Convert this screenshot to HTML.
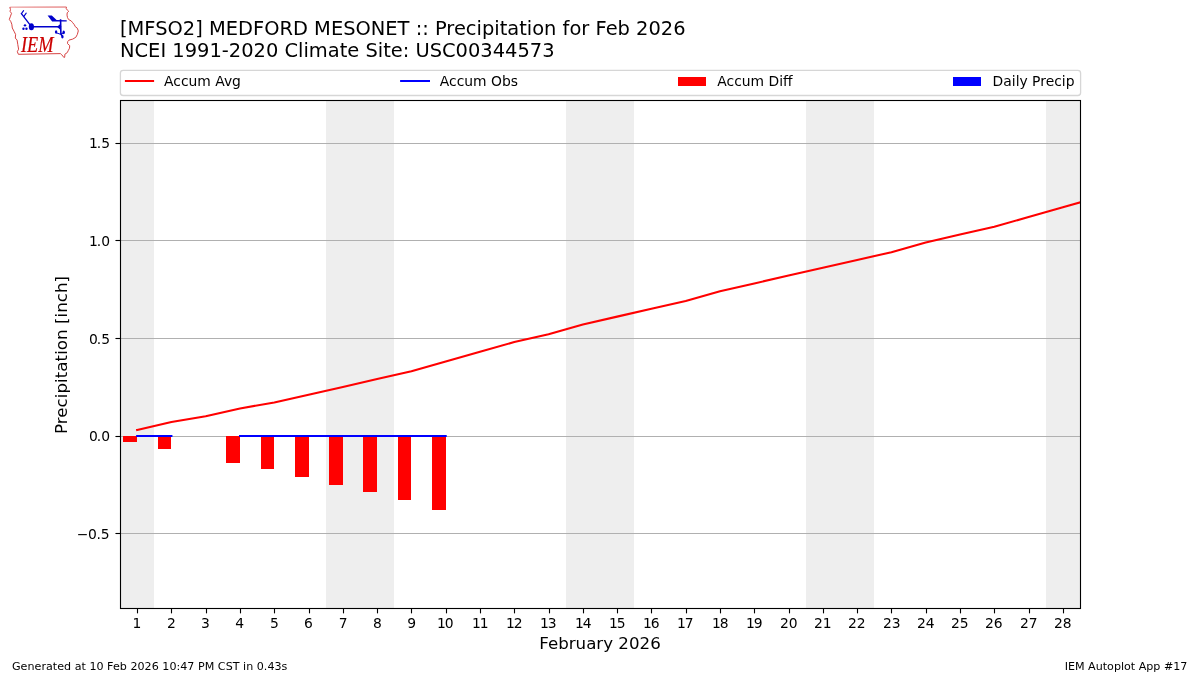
<!DOCTYPE html>
<html lang="en"><head><meta charset="utf-8"><title>IEM Autoplot #17 - MFSO2 Precipitation Feb 2026</title>
<style>
html,body{margin:0;padding:0;background:#fff;}
body{width:1200px;height:675px;overflow:hidden;}
svg{display:block;}
text{font-family:"DejaVu Sans", "Liberation Sans", sans-serif;fill:#000;}
.t10{font-size:13.889px;}
.t12{font-size:16.667px;}
.t14{font-size:19.444px;}
.t8{font-size:11.111px;}
</style></head><body>
<svg width="1200" height="675" viewBox="0 0 1200 675">
<rect x="0" y="0" width="1200" height="675" fill="#ffffff"/>
<defs><clipPath id="axclip"><rect x="120.00" y="100.50" width="960.50" height="508.00"/></clipPath></defs>
<g id="plot" clip-path="url(#axclip)">
<rect x="120" y="100.5" width="34" height="508.0" fill="#eeeeee"/>
<rect x="326" y="100.5" width="68" height="508.0" fill="#eeeeee"/>
<rect x="566" y="100.5" width="68" height="508.0" fill="#eeeeee"/>
<rect x="806" y="100.5" width="68" height="508.0" fill="#eeeeee"/>
<rect x="1046" y="100.5" width="68" height="508.0" fill="#eeeeee"/>
<g stroke="#b0b0b0" stroke-width="1.11" fill="none">
<line x1="120.0" y1="143.5" x2="1080.5" y2="143.5"/>
<line x1="120.0" y1="240.5" x2="1080.5" y2="240.5"/>
<line x1="120.0" y1="338.5" x2="1080.5" y2="338.5"/>
<line x1="120.0" y1="436.5" x2="1080.5" y2="436.5"/>
<line x1="120.0" y1="533.5" x2="1080.5" y2="533.5"/>
</g>
<g fill="#ff0000" shape-rendering="crispEdges">
<rect x="123" y="436" width="14" height="6"/>
<rect x="158" y="436" width="13" height="13"/>
<rect x="226" y="436" width="14" height="27"/>
<rect x="261" y="436" width="13" height="33"/>
<rect x="295" y="436" width="14" height="41"/>
<rect x="329" y="436" width="14" height="49"/>
<rect x="363" y="436" width="14" height="56"/>
<rect x="398" y="436" width="13" height="64"/>
<rect x="432" y="436" width="14" height="74"/>
</g>
<polyline points="137.14,429.89 171.43,422.08 205.71,416.22 240.00,408.41 274.29,402.55 308.57,394.74 342.86,386.93 377.14,379.11 411.43,371.30 445.71,361.54 480.00,351.77 514.29,342.01 548.57,334.19 582.86,324.43 617.14,316.62 651.43,308.81 685.71,300.99 720.00,291.23 754.29,283.42 788.57,275.60 822.86,267.79 857.14,259.98 891.43,252.17 925.71,242.40 960.00,234.59 994.29,226.78 1028.57,217.01 1062.86,207.25 1097.14,197.48" fill="none" stroke="#ff0000" stroke-width="2.08" stroke-linejoin="round" stroke-linecap="square"/>
<g stroke="#0000ff" stroke-width="2" stroke-linecap="square" fill="none">
<line x1="137.14" y1="436" x2="171.43" y2="436"/>
<line x1="240.00" y1="436" x2="445.71" y2="436"/>
</g>
</g>
<rect x="120.5" y="100.5" width="960.0" height="508.0" fill="none" stroke="#000" stroke-width="1.11"/>
<g stroke="#000" stroke-width="1.11">
<line x1="137.5" y1="608.5" x2="137.5" y2="613.36"/>
<line x1="171.5" y1="608.5" x2="171.5" y2="613.36"/>
<line x1="206.5" y1="608.5" x2="206.5" y2="613.36"/>
<line x1="240.5" y1="608.5" x2="240.5" y2="613.36"/>
<line x1="274.5" y1="608.5" x2="274.5" y2="613.36"/>
<line x1="309.5" y1="608.5" x2="309.5" y2="613.36"/>
<line x1="343.5" y1="608.5" x2="343.5" y2="613.36"/>
<line x1="377.5" y1="608.5" x2="377.5" y2="613.36"/>
<line x1="411.5" y1="608.5" x2="411.5" y2="613.36"/>
<line x1="446.5" y1="608.5" x2="446.5" y2="613.36"/>
<line x1="480.5" y1="608.5" x2="480.5" y2="613.36"/>
<line x1="514.5" y1="608.5" x2="514.5" y2="613.36"/>
<line x1="549.5" y1="608.5" x2="549.5" y2="613.36"/>
<line x1="583.5" y1="608.5" x2="583.5" y2="613.36"/>
<line x1="617.5" y1="608.5" x2="617.5" y2="613.36"/>
<line x1="651.5" y1="608.5" x2="651.5" y2="613.36"/>
<line x1="686.5" y1="608.5" x2="686.5" y2="613.36"/>
<line x1="720.5" y1="608.5" x2="720.5" y2="613.36"/>
<line x1="754.5" y1="608.5" x2="754.5" y2="613.36"/>
<line x1="789.5" y1="608.5" x2="789.5" y2="613.36"/>
<line x1="823.5" y1="608.5" x2="823.5" y2="613.36"/>
<line x1="857.5" y1="608.5" x2="857.5" y2="613.36"/>
<line x1="891.5" y1="608.5" x2="891.5" y2="613.36"/>
<line x1="926.5" y1="608.5" x2="926.5" y2="613.36"/>
<line x1="960.5" y1="608.5" x2="960.5" y2="613.36"/>
<line x1="994.5" y1="608.5" x2="994.5" y2="613.36"/>
<line x1="1029.5" y1="608.5" x2="1029.5" y2="613.36"/>
<line x1="1063.5" y1="608.5" x2="1063.5" y2="613.36"/>
<line x1="115.44" y1="143.5" x2="120.5" y2="143.5"/>
<line x1="115.44" y1="240.5" x2="120.5" y2="240.5"/>
<line x1="115.44" y1="338.5" x2="120.5" y2="338.5"/>
<line x1="115.44" y1="436.5" x2="120.5" y2="436.5"/>
<line x1="115.44" y1="533.5" x2="120.5" y2="533.5"/>
</g>
<g class="t10">
<text x="132.47" y="628">1</text>
<text x="166.98" y="628">2</text>
<text x="200.94" y="628">3</text>
<text x="235.32" y="628">4</text>
<text x="269.93" y="628">5</text>
<text x="304.03" y="628">6</text>
<text x="338.86" y="628">7</text>
<text x="373.06" y="628">8</text>
<text x="407.13" y="628">9</text>
<text x="436.92" y="628">1<tspan dx="-0.9">0</tspan></text>
<text x="471.92" y="628">1<tspan dx="-0.9">1</tspan></text>
<text x="505.92" y="628">1<tspan dx="-0.9">2</tspan></text>
<text x="539.92" y="628">1<tspan dx="-0.9">3</tspan></text>
<text x="574.92" y="628">1<tspan dx="-0.9">4</tspan></text>
<text x="608.92" y="628">1<tspan dx="-0.9">5</tspan></text>
<text x="642.92" y="628">1<tspan dx="-0.9">6</tspan></text>
<text x="676.92" y="628">1<tspan dx="-0.9">7</tspan></text>
<text x="711.92" y="628">1<tspan dx="-0.9">8</tspan></text>
<text x="745.92" y="628">1<tspan dx="-0.9">9</tspan></text>
<text x="779.98" y="628">20</text>
<text x="813.98" y="628">21</text>
<text x="847.98" y="628">22</text>
<text x="882.98" y="628">23</text>
<text x="916.98" y="628">24</text>
<text x="950.98" y="628">25</text>
<text x="984.98" y="628">26</text>
<text x="1019.98" y="628">27</text>
<text x="1053.98" y="628">28</text>
</g>
<g class="t10" text-anchor="end">
<text x="110.0" y="148">1<tspan dx="-1.1">.5</tspan></text>
<text x="110.0" y="246">1<tspan dx="-1.1">.0</tspan></text>
<text x="110.0" y="344">0<tspan dx="-1.1">.5</tspan></text>
<text x="110.0" y="441">0<tspan dx="-1.1">.0</tspan></text>
<text x="109.65" y="539">−<tspan dx="-0.35">0</tspan><tspan dx="-0.35">.5</tspan></text>
</g>
<text class="t12" x="600" y="648.7" text-anchor="middle">February 2026</text>
<text class="t12" transform="translate(67.3,354.95) rotate(-90)" text-anchor="middle" textLength="158.1" lengthAdjust="spacing">Precipitation [inch]</text>
<text class="t14" x="120" y="34.75">[MFSO2] MEDFORD MESONET :: Precipitation for Feb 2026</text>
<text class="t14" x="120" y="57">NCEI 1991-2020 Climate Site: USC00344573</text>
<rect x="120.4" y="70.3" width="960.2" height="25.2" rx="2.8" ry="2.8" fill="#ffffff" stroke="#d6d6d6" stroke-width="1.3"/>
<line x1="124.9" y1="81" x2="154.1" y2="81" stroke="#ff0000" stroke-width="2"/>
<text class="t10" x="164.0" y="85.7">Accum Avg</text>
<line x1="400.1" y1="81" x2="430.0" y2="81" stroke="#0000ff" stroke-width="2"/>
<text class="t10" x="439.8" y="85.7">Accum Obs</text>
<rect x="678" y="77" width="28" height="9" fill="#ff0000"/>
<text class="t10" x="717.3" y="85.7">Accum Diff</text>
<rect x="953" y="77" width="28" height="9" fill="#0000ff"/>
<text class="t10" x="992.6" y="85.7">Daily Precip</text>
<text class="t8" x="12" y="670" textLength="275.4" lengthAdjust="spacing">Generated at 10 Feb 2026 10:47 PM CST in 0.43s</text>
<text class="t8" x="1187.4" y="670" text-anchor="end">IEM Autoplot App #17</text>
<g id="iem-logo">
<path d="M9.8,7.35 L66.4,7.05 L66.2,8.5 L67.5,10.3 L68.7,11.3 L67.2,12.8 L67.0,15.1 L67.5,17.6 L68.7,19.6 L71.2,20.9 L72.7,22.7 L74.3,24.7 L75.3,26.7 L77.3,28.2 L78.3,30.9 L77.3,34.5 L75.8,37.3 L72.7,39.1 L69,40.1 L67.7,41.6 L67.5,43.6 L69.7,45.6 L69.5,48.2 L68.2,50.7 L67.2,52.7 L64.9,54.2 L64.7,57.2 L64.1,57.7 L61.7,54.7 L60.4,53.6 L18.4,54.3 L17.3,51.7 L18.6,49.2 L17.8,44.6 L17.1,40.1 L15.3,38.1 L15.6,34.5 L14.3,31.8 L12.3,28 L11.8,24.2 L10.8,21.6 L9.3,19.4 L10.5,16.1 L11.5,13.3 L10.0,11.3 L10.5,9.6 Z" fill="none" stroke="#d43a3a" stroke-width="0.95" stroke-linejoin="round"/>
<path d="M10.6,7.35 L65.8,7.05" fill="none" stroke="#f2b8b8" stroke-width="1.1"/>
<g fill="#0000cc" stroke="none">
<ellipse cx="31.4" cy="26.8" rx="2.6" ry="3.55"/>
<circle cx="25.0" cy="25.35" r="1.2"/>
<circle cx="23.45" cy="28.8" r="1.2"/>
<circle cx="26.45" cy="28.8" r="1.2"/>
<path d="M47.6,15.4 L51.8,15.4 L56.6,19.9 L66.7,20.2 L66.7,21.6 L52.1,21.6 Z"/>
<path d="M57.0,26.8 L60.0,24.2 L60.0,29.4 Z"/>
<ellipse cx="56.1" cy="32.0" rx="1.2" ry="1.8"/>
<ellipse cx="63.7" cy="32.3" rx="1.2" ry="1.9"/>
<ellipse cx="62.4" cy="36.8" rx="1.2" ry="1.8"/>
</g>
<g fill="none" stroke="#0000cc" stroke-linecap="round">
<path d="M31.4,26.8 L60.5,26.8" stroke-width="1.6"/>
<path d="M60.55,19.2 L60.9,34.0 L62.2,36.0" stroke-width="1.6" stroke-linecap="butt"/>
<path d="M31.4,26.6 L21.4,13.6" stroke-width="1.35"/>
<path d="M21.4,13.6 L23.6,10.6 M23.9,16.4 L26.2,13.1" stroke-width="1.1"/>
<path d="M56.6,33.0 Q60.5,35.5 63.4,33.2" stroke-width="1.0"/>
</g>
<text x="21.0" y="51.6" transform="translate(21.0 0) scale(0.81 1) translate(-21.0 0)" style="font-family:'Liberation Serif','DejaVu Serif',serif;font-style:italic;font-size:22.6px;fill:#cc0000;stroke:#cc0000;stroke-width:0.2px;">IEM</text>
</g>

</svg>
</body></html>
